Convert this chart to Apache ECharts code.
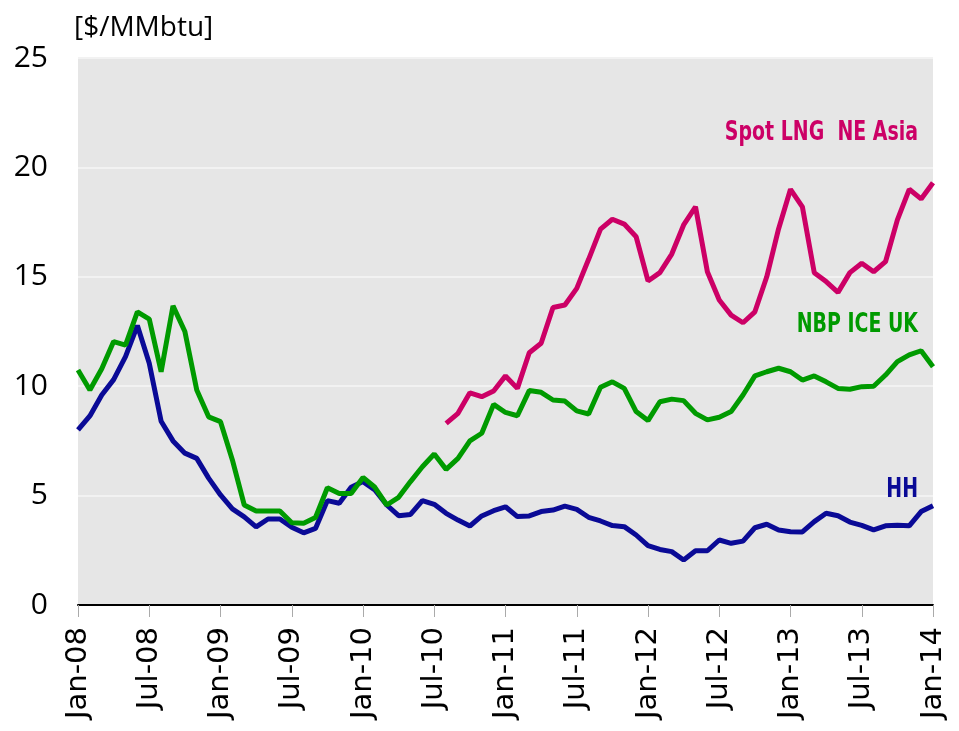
<!DOCTYPE html>
<html>
<head>
<meta charset="utf-8">
<script src="https://cdn.jsdelivr.net/npm/echarts@6/dist/echarts.min.js"></script>
<style>
  html, body { margin: 0; padding: 0; background: #fff; }
  #chart { width: 959px; height: 731px; }
</style>
</head>
<body>
<div id="chart"></div>
<script>
// monthly prices, Jan-08 .. Jan-14 ($/MMbtu)
const months = ['Jan', 'Feb', 'Mar', 'Apr', 'May', 'Jun', 'Jul', 'Aug', 'Sep', 'Oct', 'Nov', 'Dec'];
const categories = [];
for (let y = 8; y <= 14; y++) {
    for (let m = 0; m < 12; m++) {
        if (y === 14 && m > 0) break;
        categories.push(months[m] + '-' + (y < 10 ? '0' + y : y));
    }
}

const hh = [
    8.0, 8.64, 9.6, 10.3, 11.35, 12.77, 11.05, 8.4, 7.5, 6.94, 6.7, 5.8,
    5.03, 4.39, 4.03, 3.57, 3.93, 3.93, 3.55, 3.3, 3.5, 4.77, 4.65, 5.38,
    5.64, 5.26, 4.57, 4.08, 4.14, 4.77, 4.6, 4.19, 3.88, 3.61, 4.07, 4.31,
    4.49, 4.04, 4.07, 4.27, 4.34, 4.52, 4.37, 4.01, 3.84, 3.63, 3.58, 3.2,
    2.71, 2.54, 2.44, 2.06, 2.48, 2.48, 2.97, 2.82, 2.92, 3.53, 3.69, 3.43,
    3.35, 3.34, 3.81, 4.19, 4.08, 3.79, 3.64, 3.43, 3.62, 3.64, 3.62, 4.27,
    4.54
];

const nbp = [
    10.74, 9.83, 10.8, 12.04, 11.88, 13.4, 13.07, 10.66, 13.67, 12.5, 9.83, 8.6,
    8.38, 6.63, 4.57, 4.3, 4.3, 4.3, 3.76, 3.74, 4.0, 5.36, 5.1, 5.1,
    5.83, 5.38, 4.57, 4.92, 5.64, 6.32, 6.9, 6.2, 6.7, 7.5, 7.85, 9.17,
    8.8, 8.65, 9.8, 9.72, 9.37, 9.32, 8.87, 8.73, 9.95, 10.2, 9.9, 8.84,
    8.43, 9.29, 9.41, 9.34, 8.76, 8.46, 8.58, 8.84, 9.6, 10.47, 10.66, 10.82,
    10.66, 10.28, 10.47, 10.2, 9.9, 9.86, 9.98, 10.0, 10.51, 11.12, 11.43, 11.62,
    10.89
];

// spot LNG starts Aug-10
const lng = [
    null, null, null, null, null, null, null, null, null, null, null, null,
    null, null, null, null, null, null, null, null, null, null, null, null,
    null, null, null, null, null, null, null, 8.3, 8.76, 9.7, 9.52, 9.78,
    10.47, 9.9, 11.53, 11.96, 13.6, 13.71, 14.47, 15.8, 17.18, 17.63, 17.41, 16.83,
    14.81, 15.19, 16.04, 17.37, 18.2, 15.23, 13.94, 13.25, 12.9, 13.4, 15.0, 17.2,
    19.0, 18.2, 15.19, 14.78, 14.29, 15.19, 15.62, 15.23, 15.69, 17.6, 19.0, 18.56,
    19.3
];

const yTicks = [0, 5, 10, 15, 20, 25];

const colors = { hh: '#0a0a96', nbp: '#009a00', lng: '#cc0066' };
const labelFont = "bold 26px 'DejaVu Sans Condensed', sans-serif";

const makeLine = (name, data, color) => ({
    name,
    type: 'line',
    data,
    symbol: 'none',
    connectNulls: false,
    lineStyle: { color, width: 5 },
    z: 3
});

// squeezed bold series label, right edge at x
const seriesLabel = (text, x, y, color) => ({
    type: 'text', x, y, scaleX: 0.81, z: 100,
    style: { text, font: labelFont, fill: color, align: 'right', verticalAlign: 'middle' }
});

const chart = echarts.init(document.getElementById('chart'));

chart.setOption({
    animation: false,
    grid: {
        left: 78, right: 26, top: 58, bottom: 126,
        show: true, backgroundColor: '#e6e6e6', borderWidth: 0
    },
    xAxis: {
        type: 'category',
        data: categories,
        boundaryGap: false,
        axisLine: { lineStyle: { color: '#000', width: 2 } },
        axisTick: { interval: 5, length: 12, lineStyle: { color: '#aaa', width: 1 } },
        axisLabel: {
            interval: 5, rotate: 90, margin: 22,
            fontFamily: 'DejaVu Sans', fontSize: 29, color: '#000'
        },
        splitLine: { show: false }
    },
    yAxis: {
        type: 'value',
        min: yTicks[0],
        max: yTicks[yTicks.length - 1],
        interval: 5,
        axisLine: { show: false },
        axisTick: { show: false },
        axisLabel: {
            margin: 30, fontFamily: 'Open Sans', fontSize: 30, color: '#000'
        },
        splitLine: { lineStyle: { color: '#f2f2f2', width: 2 } }
    },
    graphic: [
        {
            type: 'text', left: 74, top: 14,
            style: { text: '[$/MMbtu]', font: "28px 'Open Sans', sans-serif", fill: '#000' }
        },
        seriesLabel('Spot LNG  NE Asia', 918, 133, colors.lng),
        seriesLabel('NBP ICE UK', 918, 325, colors.nbp),
        seriesLabel('HH', 918, 490, colors.hh)
    ],
    series: [
        makeLine('HH', hh, colors.hh),
        makeLine('NBP ICE UK', nbp, colors.nbp),
        makeLine('Spot LNG NE Asia', lng, colors.lng)
    ]
});
</script>
</body>
</html>
